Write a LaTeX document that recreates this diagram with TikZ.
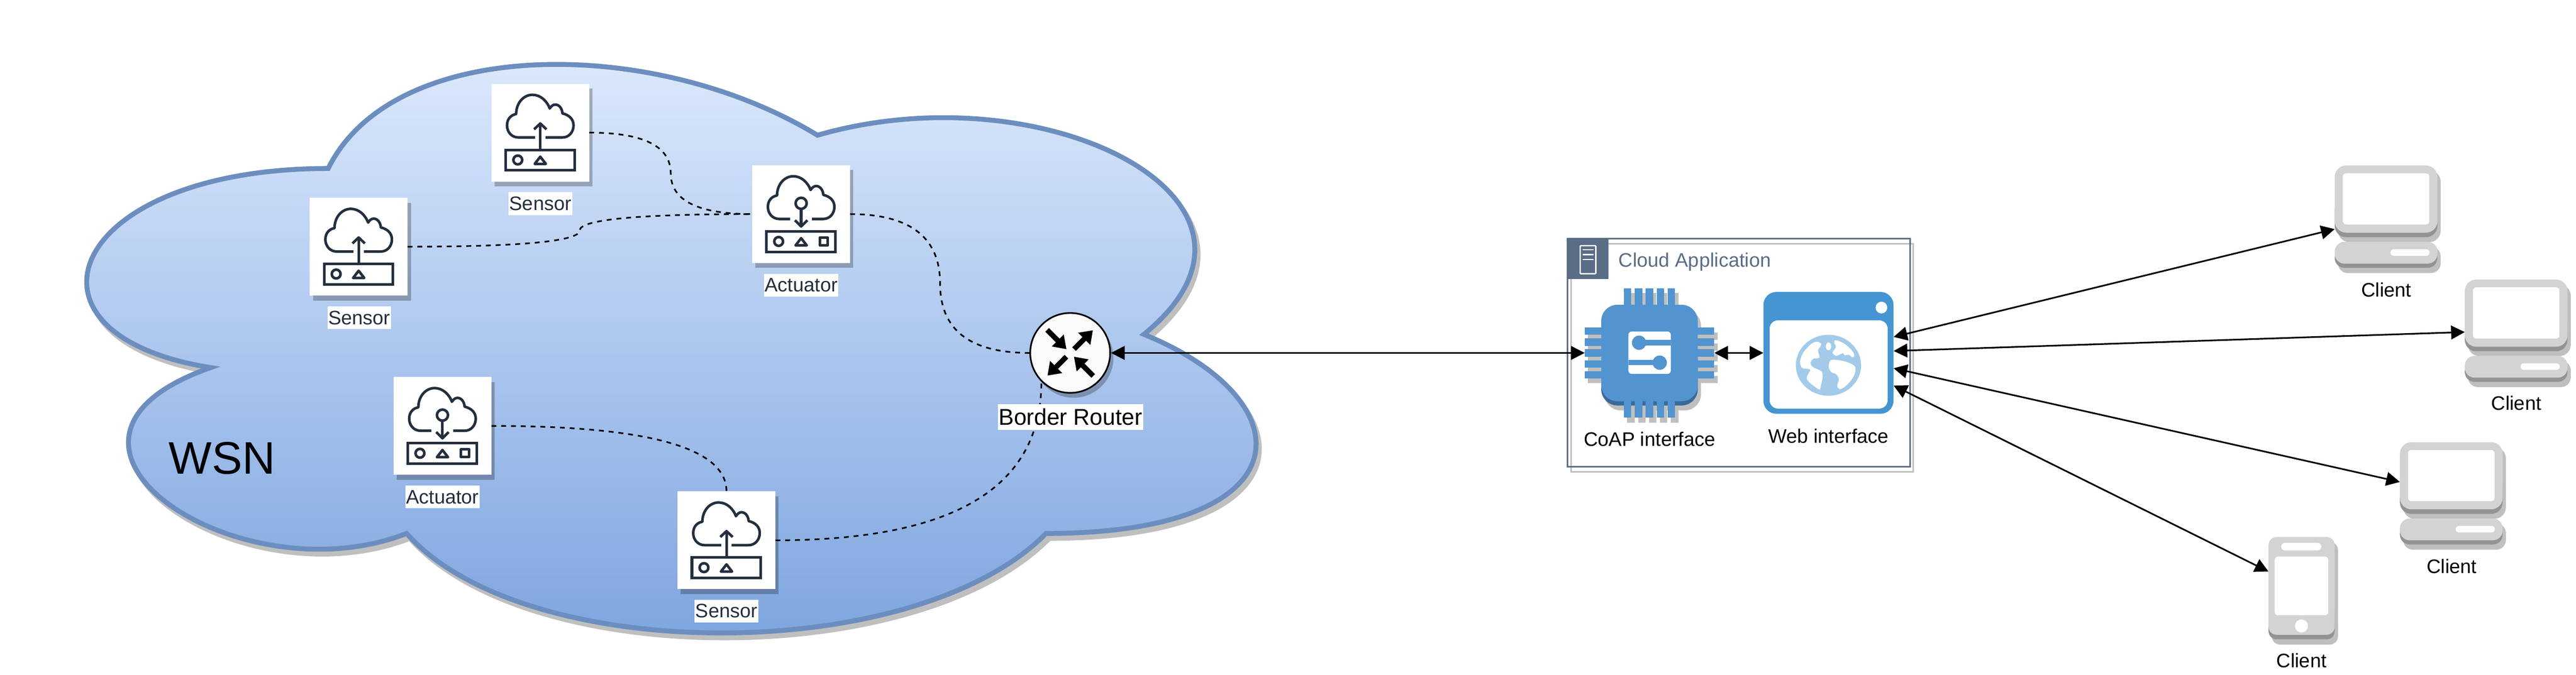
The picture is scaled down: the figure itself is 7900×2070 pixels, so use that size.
\documentclass[tikz,border=0pt]{standalone}
\usepackage{fontspec}
\setmainfont{Liberation Sans}
\usepackage{tikz}
\usetikzlibrary{arrows.meta, shadows}

\definecolor{wsnedge}{HTML}{6C8EBF}
\definecolor{wsntop}{RGB}{223,235,253}
\definecolor{wsnbottom}{RGB}{121,162,222}
\definecolor{greyshadow}{HTML}{BFBFBF}
\definecolor{iconink}{HTML}{232F3E}
\definecolor{appslate}{HTML}{5A6C86}
\definecolor{chipblue}{HTML}{5294CF}
\definecolor{chipdark}{HTML}{3B6A99}
\definecolor{webblue}{HTML}{4495D1}
\definecolor{globeblue}{HTML}{A3CBE9}
\definecolor{clientlight}{HTML}{D2D4D3}
\definecolor{clientdark}{HTML}{939393}

\newcommand{\wsnoutline}{(1006.5,517) .. controls (206,517) and (6,1026) .. (646,1128)
	.. controls (6,1352) and (726,1840) .. (1247,1637)
	.. controls (1607,2044) and (2807,2044) .. (3208,1637)
	.. controls (4008,1637) and (4008,1230) .. (3508,1026)
	.. controls (4008,619) and (3208,212) .. (2507,415)
	.. controls (2007,110) and (1207,110) .. (1006.5,517) -- cycle}
\newcommand{\iconcloud}[2]{\draw [iconline] (#1,165) -- (83,165) .. controls (62,165) and (48,148) .. (48,128)
	.. controls (48,108) and (60,96) .. (76,93) .. controls (76,60) and (98,34) .. (126,34)
	.. controls (150,34) and (170,52) .. (179,76) .. controls (184,68) and (190,64) .. (196,64)
	.. controls (208,64) and (217,76) .. (218,91) .. controls (238,96) and (252,108) .. (252,128)
	.. controls (252,148) and (238,165) .. (218,165) -- (#2,165);
	\draw [iconline, line join=miter] (44,203) rectangle (255,266);
	\draw [iconline] (81,234) circle (13.5);
	\draw [iconline] (150,224) -- (133,246) -- (167,246) -- cycle;}
\newcommand{\chipshape}{\fill [rounded corners=.5cm] (50.7,50.7) rectangle (346.7,347);
	\foreach \p in {0,1,2,3,4} {
		\fill (120.3+33.5*\p,0) rectangle +(22.7,397);
		\fill (0,120.7+33.4*\p) rectangle +(397.3,22.5);
	}}

\tikzset{
	softshadow/.style={general shadow={shadow xshift=.1cm, shadow yshift=-.15cm, fill=black, opacity=.25}},
	iconbox/.style={shape=rectangle, fill=white, minimum size=3cm, inner sep=0, outer sep=0, softshadow},
	plainbox/.style={shape=rectangle, inner sep=0, outer sep=0},
	iconline/.style={draw=iconink, line width=.08cm, line join=round},
	iconlabel/.style={fill=white, text=iconink, inner xsep=.025cm, inner ysep=.015cm, outer sep=0, text height=.543cm, text depth=.127cm, font=\fontsize{17.07}{20}\selectfont},
	blacklabel/.style={text=black, inner xsep=.025cm, inner ysep=.015cm, outer sep=0, text height=.543cm, text depth=.127cm, font=\fontsize{17.07}{20}\selectfont},
	wsnlink/.style={draw=black, line width=.05cm, dash pattern=on .15cm off .15cm},
	biarrow/.style={{Triangle[length=.42cm,width=.42cm]}-{Triangle[length=.42cm,width=.42cm]}, line width=.05cm, black},
	sensoricon/.pic={
		\iconcloud{134}{166}
		\draw [iconline] (150,200) -- (150,122);
		\draw [iconline] (131,140) -- (150,122) -- (169,140);
	},
	actuatoricon/.pic={
		\iconcloud{116}{183}
		\draw [iconline] (150,117) circle (17);
		\draw [iconline] (150,134) -- (150,188);
		\draw [iconline] (131,169) -- (150,188) -- (169,169);
		\draw [iconline] (207,222) rectangle (232,246);
	},
	routericon/.pic={
		\foreach \a in {45,225}
			\fill [black, rotate=\a] (16.5,-8) -- (61,-8) -- (61,-26.5) -- (98,0) -- (61,26.5) -- (61,8) -- (16.5,8) -- cycle;
		\foreach \a in {135,315}
			\fill [black, rotate=\a] (100,-8) -- (54,-8) -- (54,-26) -- (16.6,0) -- (54,26) -- (54,8) -- (100,8) -- cycle;
	},
	chipicon/.pic={
		\begin{scope}[shift={(10,15)}, fill=greyshadow]
			\fill [greyshadow, rounded corners=.5cm] (50.7,50.7) rectangle (346.7,360);
			\foreach \p in {0,1,2,3,4} {
				\fill [greyshadow] (120.3+33.5*\p,0) rectangle +(22.7,397);
				\fill [greyshadow] (0,120.7+33.4*\p) rectangle +(397.3,22.5);
			}
		\end{scope}
		\fill [chipdark, rounded corners=.5cm] (50.7,150) rectangle (346.7,360);
		\begin{scope}[chipblue]
			\chipshape
		\end{scope}
		\fill [white, rounded corners=.1cm] (134,133) rectangle (264,263);
		\fill [chipblue] (166.7,167.3) circle (22);
		\fill [chipblue] (166.7,159) rectangle (264,175.7);
		\fill [chipblue] (230,228.5) circle (22);
		\fill [chipblue] (134,220) rectangle (230,236);
	},
	webicon/.pic={
		\fill [webblue, rounded corners=.4cm] (0,0) rectangle (399,374);
		\fill [white, rounded corners=.26cm] (19,87) rectangle (381,358);
		\fill [white] (362,48) circle (18);
		\begin{scope}[shift={(199.5,225)}]
			\fill [globeblue] (0,0) ellipse (100 and 93.5);
			\fill [white] plot [smooth cycle, tension=.6] coordinates {(-34,-72) (-22,-64) (-32,-46) (-28,-24) (-47,-20) (-55,-6) (-47,6) (-19,23) (-24,66) (-31,73) (-66,43) (-56,16) (-64,11) (-81,8) (-87,-11) (-77,-39) (-52,-66)};
			\fill [white] (.3,-58) ellipse (8.3 and 12);
			\fill [white] plot [smooth cycle, tension=.6] coordinates {(23,-77) (49,-66) (73,-44) (79,-29) (73,-25) (63,-32) (49,-31) (44,-37) (24,-29) (14,-36) (13,-41) (23,-56) (18,-69)};
			\fill [white] plot [smooth cycle, tension=.6] coordinates {(13,-17) (46,-13) (76,-1) (83,13) (76,36) (56,61) (36,73) (27,63) (32,43) (24,28) (9,21) (1,6) (4,-11)};
		\end{scope}
	},
	desktopicon/.pic={
		\fill [greyshadow, rounded corners=.35cm] (10,15) rectangle (325,235);
		\fill [greyshadow, rounded corners=.3cm] (10,249) rectangle (325,330);
		\fill [clientdark, rounded corners=.35cm] (0,100) rectangle (315,220);
		\fill [clientlight, rounded corners=.35cm] (0,0) rectangle (315,206);
		\fill [white, rounded corners=.1cm] (25,24) rectangle (290,181);
		\fill [clientdark, rounded corners=.3cm] (0,250) rectangle (315,314);
		\fill [clientlight, rounded corners=.3cm] (0,234) rectangle (315,301);
		\fill [white, rounded corners=.099cm] (171,257) rectangle (291,277);
	},
	phoneicon/.pic={
		\fill [greyshadow, rounded corners=.25cm] (10,15) rectangle (213,330);
		\fill [clientdark, rounded corners=.25cm] (0,200) rectangle (203,314);
		\fill [clientlight, rounded corners=.25cm] (0,0) rectangle (203,300);
		\fill [white, rounded corners=.11cm] (39,18) rectangle (162,41);
		\fill [white, rounded corners=.1cm] (19,60) rectangle (183,240);
		\fill [white] (101,273) circle (20);
	},
}

\begin{document}
\begin{tikzpicture}[x=.01cm, y=-.01cm]
	\useasboundingbox (0,0) rectangle (7900,2070);

	% wsn cloud
	\fill [greyshadow, draw=greyshadow, line width=.15cm, shift={(10,15)}] \wsnoutline;
	\path [draw=wsnedge, line width=.15cm, top color=wsntop, bottom color=wsnbottom] \wsnoutline;
	\node [text=black, inner sep=0, text height=1.002cm, text depth=0pt, font=\fontsize{39.83}{46}\selectfont] (wsnTitle) at (681,1404) {WSN};

	% wsn devices
	\node [iconbox] (sensorA) at (1657,407) {};
	\node [iconbox] (sensorB) at (1100,757) {};
	\node [iconbox] (sensorC) at (2228,1658) {};
	\node [iconbox] (actuatorA) at (2457,657) {};
	\node [iconbox] (actuatorB) at (1357,1307) {};
	\pic at (sensorA.north west) {sensoricon};
	\pic at (sensorB.north west) {sensoricon};
	\pic at (sensorC.north west) {sensoricon};
	\pic at (actuatorA.north west) {actuatoricon};
	\pic at (actuatorB.north west) {actuatoricon};

	\node [shape=circle, minimum size=2.45cm, inner sep=0, draw=black, line width=.05cm, fill=black!2, softshadow] (routerN) at (3282,1083) {};
	\pic at (routerN.center) {routericon};

	\coordinate (bendA) at (2057,532);
	\coordinate (bendB) at (1778,707);
	\coordinate (bendC) at (2883,870);

	\draw [wsnlink] (sensorA.east) .. controls +(167,0) and +(0,-83) .. (bendA) .. controls +(0,83) and +(-167,0) .. (actuatorA.west);
	\draw [wsnlink] (sensorB.east) .. controls +(352,0) and +(0,33) .. (bendB) .. controls +(0,-33) and +(-352,0) .. (actuatorA.west);
	\draw [wsnlink] (actuatorA.east) .. controls +(183,0) and +(0,-142) .. (bendC) .. controls +(0,142) and +(-183,0) .. (routerN.west);
	\draw [wsnlink] (actuatorB.east) .. controls +(481,0) and +(0,-134) .. (sensorC.north);
	\draw [wsnlink] (sensorC.east) .. controls +(544,0) and +(0,327) .. (routerN.south west);

	\node [iconlabel] (sensorAtext) at (1657,625) {Sensor};
	\node [iconlabel] (sensorBtext) at (1102,975) {Sensor};
	\node [iconlabel] (sensorCtext) at (2228,1875) {Sensor};
	\node [iconlabel] (actuatorAtext) at (2457,875) {Actuator};
	\node [iconlabel] (actuatorBtext) at (1357,1525) {Actuator};
	\node [fill=white, text=black, inner xsep=.025cm, inner ysep=.005cm, text height=.6335cm, text depth=.148cm, font=\fontsize{19.92}{23}\selectfont] (routerText) at (3283,1280) {Border Router};

	% cloud application
	\draw [greyshadow, line width=.05cm] (4817.5,747.5) rectangle (5867.5,1447.5);
	\node [plainbox, draw=appslate, line width=.05cm, minimum width=10.5cm, minimum height=7cm] (appFrame) at (5332.5,1082.5) {};
	\node [plainbox, fill=appslate, minimum size=1.27cm] (appTab) at (4868.5,793.5) {};
	\draw [white, line width=.04cm, rounded corners=.02cm] (4846,754) rectangle (4894,840);
	\foreach \y in {766,781,796}
		\draw [white, line width=.04cm] (4853,\y) -- (4887,\y);
	\node [plainbox, anchor=west, text=appslate, text height=.543cm, text depth=.127cm, font=\fontsize{17.07}{20}\selectfont] (appTitle) at (4964,798) {Cloud Application};

	\node [plainbox, minimum size=3.97cm] (chipN) at (5058.5,1083) {};
	\pic at (chipN.north west) {chipicon};
	\node [plainbox, minimum width=3.99cm, minimum height=3.74cm] (webN) at (5607.5,1083) {};
	\pic at (webN.north west) {webicon};
	\node [blacklabel] (chipText) at (5059,1348) {CoAP interface};
	\node [blacklabel] (webText) at (5607.5,1338) {Web interface};

	% clients
	\node [plainbox, minimum width=3.15cm, minimum height=3.14cm] (clientA) at (7317.5,665) {};
	\node [plainbox, minimum width=3.15cm, minimum height=3.14cm] (clientB) at (7716.5,1015) {};
	\node [plainbox, minimum width=3.15cm, minimum height=3.14cm] (clientC) at (7517.5,1514) {};
	\node [plainbox, minimum width=2.03cm, minimum height=3.14cm] (clientD) at (7058.5,1805) {};
	\pic at (clientA.north west) {desktopicon};
	\pic at (clientB.north west) {desktopicon};
	\pic at (clientC.north west) {desktopicon};
	\pic at (clientD.north west) {phoneicon};
	\node [blacklabel] (clientAtext) at (7318,890) {Client};
	\node [blacklabel] (clientBtext) at (7717,1238) {Client};
	\node [blacklabel] (clientCtext) at (7519,1738) {Client};
	\node [blacklabel] (clientDtext) at (7058,2028) {Client};

	\coordinate (webPortA) at ([yshift=.49cm]webN.east);
	\coordinate (webPortB) at ([yshift=.06cm]webN.east);
	\coordinate (webPortC) at ([yshift=-.47cm]webN.east);
	\coordinate (webPortD) at ([yshift=-1cm]webN.east);
	\coordinate (clientPortA) at ([yshift=-.38cm]clientA.west);
	\coordinate (clientPortB) at ([yshift=-.04cm]clientB.west);
	\coordinate (clientPortC) at ([yshift=.35cm]clientC.west);
	\coordinate (clientPortD) at ([yshift=.51cm]clientD.west);

	\path [biarrow] (routerN.east) edge (chipN.west);
	\path [biarrow] (chipN.east) edge (webN.west);
	\path [biarrow] (webPortA) edge (clientPortA);
	\path [biarrow] (webPortB) edge (clientPortB);
	\path [biarrow] (webPortC) edge (clientPortC);
	\path [biarrow] (webPortD) edge (clientPortD);
\end{tikzpicture}
\end{document}
